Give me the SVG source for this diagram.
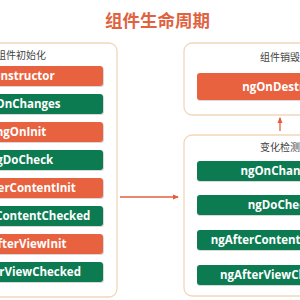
<svg xmlns="http://www.w3.org/2000/svg" width="300" height="300" viewBox="0 0 300 300">
<style>
.panel{fill:#fff;stroke:#efd8ba;stroke-width:1.3}
.red{fill:#e9623f}
.green{fill:#0c7b51}
.sh{fill:#d9d9d9}
.bt{font-family:"Open Sans","Noto Sans",sans-serif;font-weight:bold;font-size:11.5px;fill:#fff;text-anchor:middle}
.ttl{font-family:"Noto Sans CJK SC","Noto Sans",sans-serif;font-size:10px;fill:#444;text-anchor:middle}
.main{font-family:"Noto Sans CJK SC","Noto Sans",sans-serif;font-weight:bold;font-size:17.5px;fill:#e0623f;text-anchor:middle}
.arr{stroke:#e0603c;stroke-width:1.3;fill:none}
</style>
<defs>
<marker id="ah" viewBox="0 0 6 6" refX="5" refY="3" markerWidth="5" markerHeight="5" orient="auto">
<path d="M0,0.5 L6,3 L0,5.5 Z" fill="#e0603c"/>
</marker>
</defs>
<rect width="300" height="300" fill="#fff"/>
<text class="main" x="157.5" y="26.5">组件生命周期</text>

<g id="init">
<rect class="panel" x="-20" y="43" width="137" height="254" rx="8"/>
<text class="ttl" x="21" y="58.8">组件初始化</text>
</g>
<g id="constructor"><rect class="sh" x="-60" y="67" width="164" height="20" rx="3"/><rect class="red" x="-60" y="66" width="163" height="20" rx="3"/><text class="bt" x="21" y="80">constructor</text></g>
<g id="ngOnChanges1"><rect class="sh" x="-60" y="95" width="164" height="20" rx="3"/><rect class="green" x="-60" y="94" width="163" height="20" rx="3"/><text class="bt" x="21" y="108">ngOnChanges</text></g>
<g id="ngOnInit"><rect class="sh" x="-60" y="123" width="164" height="20" rx="3"/><rect class="red" x="-60" y="122" width="163" height="20" rx="3"/><text class="bt" x="21" y="136">ngOnInit</text></g>
<g id="ngDoCheck1"><rect class="sh" x="-60" y="151" width="164" height="20" rx="3"/><rect class="green" x="-60" y="150" width="163" height="20" rx="3"/><text class="bt" x="21" y="164">ngDoCheck</text></g>
<g id="ngAfterContentInit"><rect class="sh" x="-60" y="179" width="164" height="20" rx="3"/><rect class="red" x="-60" y="178" width="163" height="20" rx="3"/><text class="bt" x="21" y="192">ngAfterContentInit</text></g>
<g id="ngAfterContentChecked1"><rect class="sh" x="-60" y="207" width="164" height="20" rx="3"/><rect class="green" x="-60" y="206" width="163" height="20" rx="3"/><text class="bt" x="21" y="220">ngAfterContentChecked</text></g>
<g id="ngAfterViewInit"><rect class="sh" x="-60" y="235" width="164" height="20" rx="3"/><rect class="red" x="-60" y="234" width="163" height="20" rx="3"/><text class="bt" x="21" y="248">ngAfterViewInit</text></g>
<g id="ngAfterViewChecked1"><rect class="sh" x="-60" y="263" width="164" height="20" rx="3"/><rect class="green" x="-60" y="262" width="163" height="20" rx="3"/><text class="bt" x="21" y="276">ngAfterViewChecked</text></g>

<g id="destroy">
<rect class="panel" x="184" y="43" width="140" height="72" rx="8"/>
<text class="ttl" x="280" y="61">组件销毁</text>
</g>
<g id="ngOnDestroy"><rect class="sh" x="197" y="74" width="170" height="27" rx="3"/><rect class="red" x="197" y="73" width="170" height="27" rx="3"/><text class="bt" x="280" y="90.5">ngOnDestroy</text></g>

<g id="detect">
<rect class="panel" x="184" y="135" width="140" height="161" rx="8"/>
<text class="ttl" x="280" y="151">变化检测</text>
</g>
<g id="ngOnChanges2"><rect class="sh" x="197" y="162" width="170" height="20" rx="3"/><rect class="green" x="197" y="161" width="170" height="20" rx="3"/><text class="bt" x="280" y="175">ngOnChanges</text></g>
<g id="ngDoCheck2"><rect class="sh" x="197" y="196" width="170" height="20" rx="3"/><rect class="green" x="197" y="195" width="170" height="20" rx="3"/><text class="bt" x="280" y="209">ngDoCheck</text></g>
<g id="ngAfterContentChecked2"><rect class="sh" x="197" y="231" width="170" height="20" rx="3"/><rect class="green" x="197" y="230" width="170" height="20" rx="3"/><text class="bt" x="280" y="244">ngAfterContentChecked</text></g>
<g id="ngAfterViewChecked2"><rect class="sh" x="197" y="266" width="170" height="20" rx="3"/><rect class="green" x="197" y="265" width="170" height="20" rx="3"/><text class="bt" x="280" y="279">ngAfterViewChecked</text></g>

<g id="connectors">
<line class="arr" x1="120" y1="197" x2="178" y2="197" marker-end="url(#ah)"/>
<line class="arr" x1="280" y1="131" x2="280" y2="118" marker-end="url(#ah)"/>
</g>
</svg>
